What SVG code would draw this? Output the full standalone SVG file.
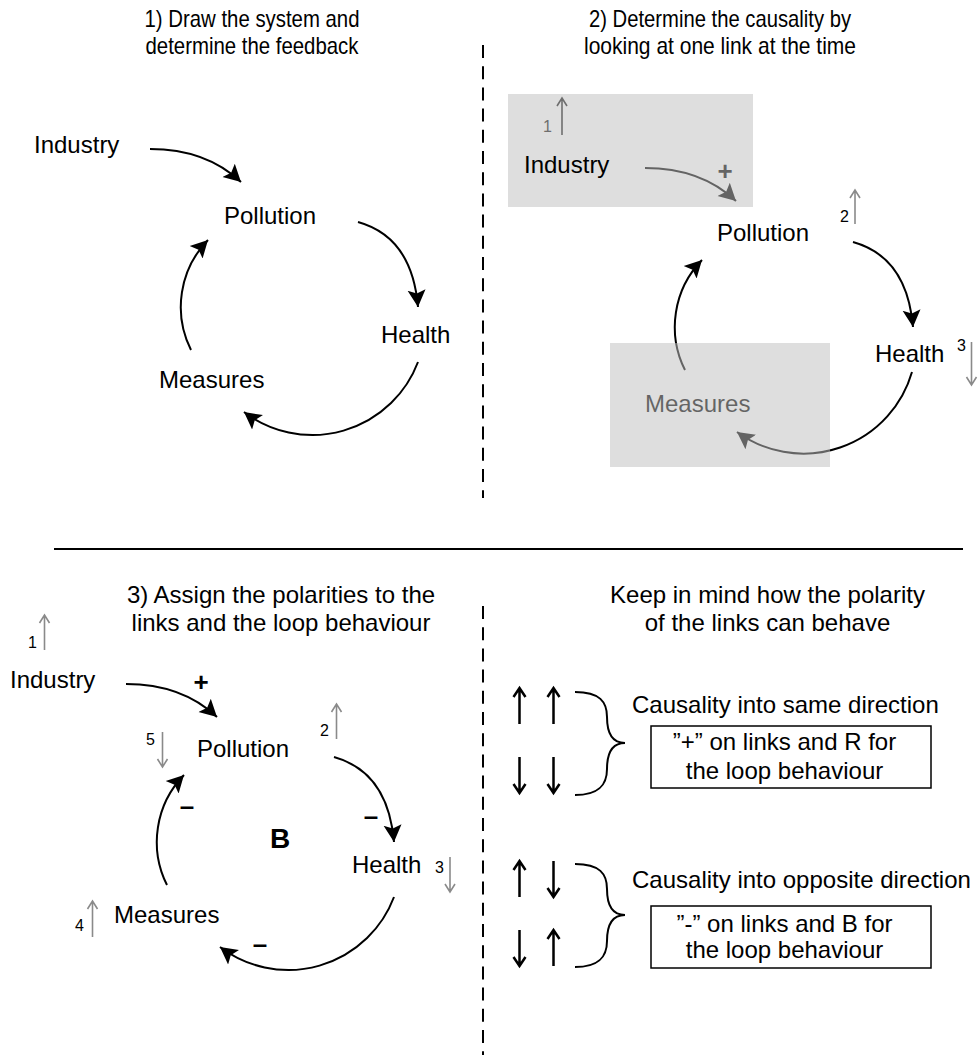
<svg xmlns="http://www.w3.org/2000/svg" width="979" height="1055" viewBox="0 0 979 1055">
<style>
text{font-family:"Liberation Sans",Arial,sans-serif;fill:#000}
.lbl{font-size:24px}
.ttl{font-size:24px;text-anchor:middle}
.num{font-size:16px}
.sign{font-size:26px;font-weight:bold;text-anchor:middle}
.lnk{fill:none;stroke:#000;stroke-width:2;marker-end:url(#ah)}
.ga{fill:none;stroke:#8a8a8a;stroke-width:1.6}
.ba{fill:none;stroke:#000;stroke-width:2.5}
.brace{fill:none;stroke:#000;stroke-width:2}
.box{fill:#fff;stroke:#000;stroke-width:1.5}
.ov{fill:#c0c0c0;fill-opacity:0.52}
.sep{stroke:#000;stroke-width:2;stroke-dasharray:13 8.2}
</style>
<defs>
<marker id="ah" markerUnits="userSpaceOnUse" orient="auto" markerWidth="20" markerHeight="20" viewBox="0 -10 20 20" refX="17" refY="0">
<path d="M0,-9 L17,0 L0,9 L3.5,0 Z" fill="#000"/>
</marker>
</defs>
<rect width="979" height="1055" fill="#fff"/>

<g id="separators">
<line class="sep" x1="483" y1="45" x2="483" y2="498"/>
<line class="sep" x1="483" y1="606" x2="483" y2="1055"/>
<line x1="54" y1="549" x2="963" y2="549" stroke="#000" stroke-width="2"/>
</g>

<g id="titles">
<text class="ttl" x="252" y="27" textLength="215" lengthAdjust="spacingAndGlyphs">1) Draw the system and</text>
<text class="ttl" x="252" y="54" textLength="213" lengthAdjust="spacingAndGlyphs">determine the feedback</text>
<text class="ttl" x="720" y="27" textLength="262" lengthAdjust="spacingAndGlyphs">2) Determine the causality by</text>
<text class="ttl" x="720" y="54" textLength="272" lengthAdjust="spacingAndGlyphs">looking at one link at the time</text>
<text class="ttl" x="281" y="603">3) Assign the polarities to the</text>
<text class="ttl" x="281" y="631">links and the loop behaviour</text>
<text class="ttl" x="767.5" y="603">Keep in mind how the polarity</text>
<text class="ttl" x="767.5" y="631">of the links can behave</text>
</g>

<!-- Panel 1 -->
<g id="p1-connectors">
<path class="lnk" d="M150,149 Q206,149 241,182"/>
<path class="lnk" d="M358,222 Q412,237 418,307"/>
<path class="lnk" d="M418,362 A113,113 0 0,1 244,412"/>
<path class="lnk" d="M191,350 A96,96 0 0,1 208,240"/>
</g>
<g id="p1-industry"><text class="lbl" x="34" y="153">Industry</text></g>
<g id="p1-pollution"><text class="lbl" x="224" y="224">Pollution</text></g>
<g id="p1-health"><text class="lbl" x="381" y="343">Health</text></g>
<g id="p1-measures"><text class="lbl" x="159" y="388">Measures</text></g>

<!-- Panel 2 -->
<g id="p2-connectors">
<path class="lnk" d="M645,168 Q701,168 736,201"/>
<path class="lnk" d="M853,242 Q907,257 913,327"/>
<path class="lnk" d="M912,372 A113,113 0 0,1 737,432"/>
<path class="lnk" d="M685,370 A96,96 0 0,1 702,260"/>
</g>
<g id="p2-plus"><text class="sign" x="725" y="180">+</text></g>
<g id="p2-measures"><text class="lbl" x="645" y="412">Measures</text></g>
<g id="p2-highlights">
<rect class="ov" x="508" y="94" width="245" height="113"/>
<rect class="ov" x="610" y="343" width="220" height="124"/>
</g>
<g id="p2-industry">
<text class="lbl" x="524" y="173">Industry</text>
<text class="num" x="543" y="132" style="fill:#6e6e6e">1</text>
<path d="M562,135 V98 M557,106 L562,98 L567,106" fill="none" stroke="#6e6e6e" stroke-width="1.6"/>
</g>
<g id="p2-pollution">
<text class="lbl" x="717" y="241">Pollution</text>
<text class="num" x="840" y="222">2</text>
<path class="ga" d="M855,224 V190 M850,198 L855,190 L860,198"/>
</g>
<g id="p2-health">
<text class="lbl" x="875" y="362">Health</text>
<text class="num" x="957" y="351">3</text>
<path class="ga" d="M971.5,342 V385 M966.5,377 L971.5,385 L976.5,377"/>
</g>

<!-- Panel 3 -->
<g id="p3-connectors">
<path class="lnk" d="M126,684 Q182,684 217,717"/>
<path class="lnk" d="M334,757 Q388,772 394,842"/>
<path class="lnk" d="M394,897 A113,113 0 0,1 220,947"/>
<path class="lnk" d="M167,885 A96,96 0 0,1 184,775"/>
<text class="sign" x="201" y="691">+</text>
<text class="sign" x="187" y="815">–</text>
<text class="sign" x="371" y="825">–</text>
<text class="sign" x="260" y="953">–</text>
</g>
<g id="p3-industry">
<text class="lbl" x="10" y="688">Industry</text>
<text class="num" x="28" y="648">1</text>
<path class="ga" d="M44.5,650 V615 M39.5,623 L44.5,615 L49.5,623"/>
</g>
<g id="p3-pollution">
<text class="lbl" x="197" y="757">Pollution</text>
<text class="num" x="146" y="745">5</text>
<path class="ga" d="M162.5,732 V767 M157.5,759 L162.5,767 L167.5,759"/>
<text class="num" x="320" y="736">2</text>
<path class="ga" d="M336.5,739 V704 M331.5,712 L336.5,704 L341.5,712"/>
</g>
<g id="p3-health">
<text class="lbl" x="352" y="873">Health</text>
<text class="num" x="435" y="873">3</text>
<path class="ga" d="M450,857 V892 M445,884 L450,892 L455,884"/>
</g>
<g id="p3-measures">
<text class="lbl" x="114" y="923">Measures</text>
<text class="num" x="75" y="931">4</text>
<path class="ga" d="M92.5,937 V901 M87.5,909 L92.5,901 L97.5,909"/>
</g>
<g id="p3-loop"><text x="270" y="848" style="font-size:28px;font-weight:bold">B</text></g>

<!-- Panel 4 -->
<g id="p4-same">
<path class="ba" d="M519.5,724 V688 M513.5,697 L519.5,688 L525.5,697"/>
<path class="ba" d="M553.5,724 V688 M547.5,697 L553.5,688 L559.5,697"/>
<path class="ba" d="M519.5,757 V793 M513.5,784 L519.5,793 L525.5,784"/>
<path class="ba" d="M553.5,757 V793 M547.5,784 L553.5,793 L559.5,784"/>
<path class="brace" d="M575,692 C600,692 607,702 607,717 C607,733 612,743 625,743 C612,743 607,753 607,769 C607,784 600,795 575,795"/>
<text class="lbl" x="632" y="713">Causality into same direction</text>
<rect class="box" x="651" y="726" width="280" height="62"/>
<text class="ttl" x="784.5" y="750">”+” on links and R for</text>
<text class="ttl" x="784.5" y="779">the loop behaviour</text>
</g>
<g id="p4-opposite">
<path class="ba" d="M519.5,897 V861 M513.5,870 L519.5,861 L525.5,870"/>
<path class="ba" d="M553.5,861 V897 M547.5,888 L553.5,897 L559.5,888"/>
<path class="ba" d="M519.5,930 V966 M513.5,957 L519.5,966 L525.5,957"/>
<path class="ba" d="M553.5,966 V930 M547.5,939 L553.5,930 L559.5,939"/>
<path class="brace" transform="translate(0,172)" d="M575,692 C600,692 607,702 607,717 C607,733 612,743 625,743 C612,743 607,753 607,769 C607,784 600,795 575,795"/>
<text class="lbl" x="632" y="888">Causality into opposite direction</text>
<rect class="box" x="651" y="906" width="280" height="62"/>
<text class="ttl" x="784.5" y="932">”-” on links and B for</text>
<text class="ttl" x="784.5" y="958">the loop behaviour</text>
</g>
</svg>
